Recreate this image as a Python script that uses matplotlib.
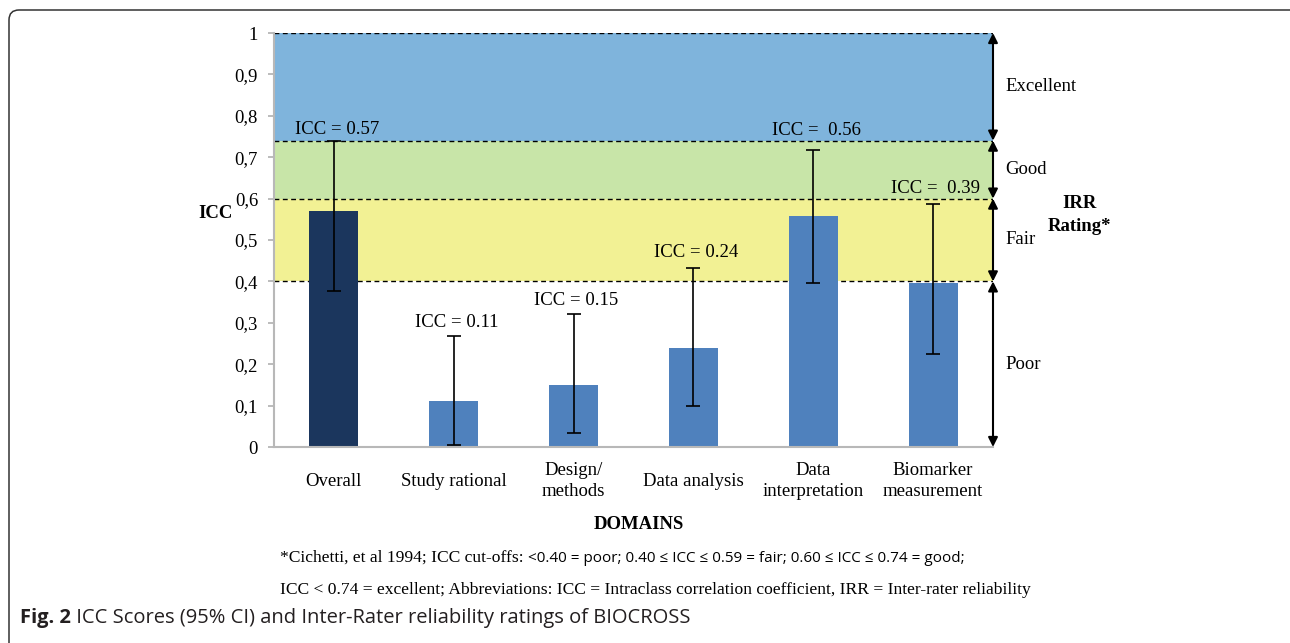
import matplotlib
matplotlib.use('Agg')
import matplotlib.pyplot as plt
from matplotlib.patches import FancyBboxPatch
import numpy as np

# data
domains = ['Overall', 'Study rational', 'Design/\nmethods', 'Data analysis',
           'Data\ninterpretation', 'Biomarker\nmeasurement']
icc = [0.57, 0.11, 0.15, 0.24, 0.558, 0.396]
ci_low = [0.378, 0.005, 0.035, 0.099, 0.397, 0.225]
ci_high = [0.74, 0.269, 0.321, 0.432, 0.717, 0.587]
icc_labels = ['ICC = 0.57', 'ICC = 0.11', 'ICC = 0.15', 'ICC = 0.24',
              'ICC =  0.56', 'ICC =  0.39']
# how far each label sits above its error bar (points)
label_offsets = [8, 9.5, 10, 11, 14.5, 11.5]

# IRR rating bands
band_edges = [0.0, 0.4, 0.6, 0.74, 1.0]
band_names = ['Poor', 'Fair', 'Good', 'Excellent']
band_colors = [None, '#f2f194', '#c8e5a8', '#7fb4dc']

yticks = [0, 0.1, 0.2, 0.3, 0.4, 0.5, 0.6, 0.7, 0.8, 0.9, 1.0]
ytick_labels = ['0', '0,1', '0,2', '0,3', '0,4', '0,5', '0,6', '0,7', '0,8', '0,9', '1']

serif = 'Liberation Serif'
fs = 13.5

fig = plt.figure(figsize=(12.9, 6.43), dpi=100)
ax = fig.add_axes([274 / 1290, 1 - 447 / 643, 719 / 1290, 414 / 643])

x = np.arange(len(domains))
vals = np.array(icc)
lo = np.array(ci_low)
hi = np.array(ci_high)

# background bands and dashed cut-off lines
for i in range(1, len(band_names)):
    ax.axhspan(band_edges[i], band_edges[i + 1], color=band_colors[i], lw=0, zorder=0)
for y in band_edges[1:]:
    ax.axhline(y, color='black', lw=1.0, ls=(0, (3.5, 2.5)), zorder=1)

bar_colors = ['#1b365d'] + ['#4f81bd'] * (len(domains) - 1)
ax.bar(x, vals, width=0.41, color=bar_colors, zorder=2)
ax.errorbar(x, vals, yerr=[vals - lo, hi - vals], fmt='none', ecolor='black',
            elinewidth=1.2, capsize=5, capthick=1.2, zorder=3)

for xi, h, lab, off in zip(x, hi, icc_labels, label_offsets):
    ax.annotate(lab, xy=(xi, h), xytext=(2, off), textcoords='offset points',
                ha='center', va='center', fontsize=fs, family=serif, zorder=4)

ax.set_xlim(-0.5, 5.5)
ax.set_ylim(0, 1)
ax.set_yticks(yticks)
ax.set_yticklabels(ytick_labels, family=serif, fontsize=fs)
ax.set_xticks(x)
ax.set_xticklabels(domains, family=serif, fontsize=fs, linespacing=1.25)
for lbl in ax.get_xticklabels():
    lbl.set_va('center')
ax.tick_params(axis='x', length=0, pad=24.5)
ax.tick_params(axis='y', length=4.5, color='#b0b0b0', width=1.2, pad=7)
for s in ['top', 'right']:
    ax.spines[s].set_visible(False)
for s in ['left', 'bottom']:
    ax.spines[s].set_color('#b8b8b8')
    ax.spines[s].set_linewidth(1.5)

# rating arrows on the right
for i, name in enumerate(band_names):
    ax.annotate('', xy=(5.5, band_edges[i]), xytext=(5.5, band_edges[i + 1]),
                arrowprops=dict(arrowstyle='<|-|>', color='black', lw=1.5,
                                mutation_scale=14, shrinkA=0, shrinkB=0),
                annotation_clip=False, zorder=5)
    ax.text(5.6, (band_edges[i] + band_edges[i + 1]) / 2, name, ha='left', va='center',
            fontsize=fs, family=serif, clip_on=False)

ax.text(6.225, 0.56, 'IRR\nRating*', ha='center', va='center', fontsize=fs,
        family=serif, weight='bold', linespacing=1.5, clip_on=False)
ax.text(-0.082, 0.565, 'ICC', transform=ax.transAxes, ha='center', va='center',
        fontsize=fs, family=serif, weight='bold')
ax.text(0.508, -0.186, 'DOMAINS', transform=ax.transAxes, ha='center', va='center',
        fontsize=fs, family=serif, weight='bold')

# footnote
t1 = fig.text(280 / 1290, 1 - 558 / 643, '*Cichetti, et al 1994; ICC cut-offs: ',
              family=serif, fontsize=12.6, va='center', ha='left')
ax.annotate('<0.40 = poor; 0.40 \u2264 ICC \u2264 0.59 = fair; 0.60 \u2264 ICC \u2264 0.74 = good;',
            xy=(1, 0), xycoords=t1, va='bottom', ha='left', fontsize=11,
            family=['Open Sans', 'DejaVu Sans'], annotation_clip=False)
fig.text(280 / 1290, 1 - 590 / 643,
         'ICC < 0.74 = excellent; Abbreviations: ICC = Intraclass correlation coefficient, '
         'IRR = Inter-rater reliability',
         family=serif, fontsize=12.6, va='center', ha='left')

# caption
c1 = fig.text(20 / 1290, 1 - 618 / 643, 'Fig. 2', family='Open Sans', weight='bold',
              fontsize=14.5, va='center', ha='left', color='#231f20')
ax.annotate(' ICC Scores (95% CI) and Inter-Rater reliability ratings of BIOCROSS',
            xy=(1, 0), xycoords=c1, va='bottom', ha='left', fontsize=14.5,
            family='Open Sans', color='#231f20', annotation_clip=False)

# rounded frame around the figure, right and bottom edges fall off the canvas
frame = FancyBboxPatch((0.09, -0.5), 13.5, 6.33 + 0.5,
                       boxstyle='round,pad=0,rounding_size=0.1',
                       transform=fig.dpi_scale_trans, fill=False, ec='#333333', lw=1.1)
fig.patches.append(frame)

fig.savefig('out.png', dpi=100)
